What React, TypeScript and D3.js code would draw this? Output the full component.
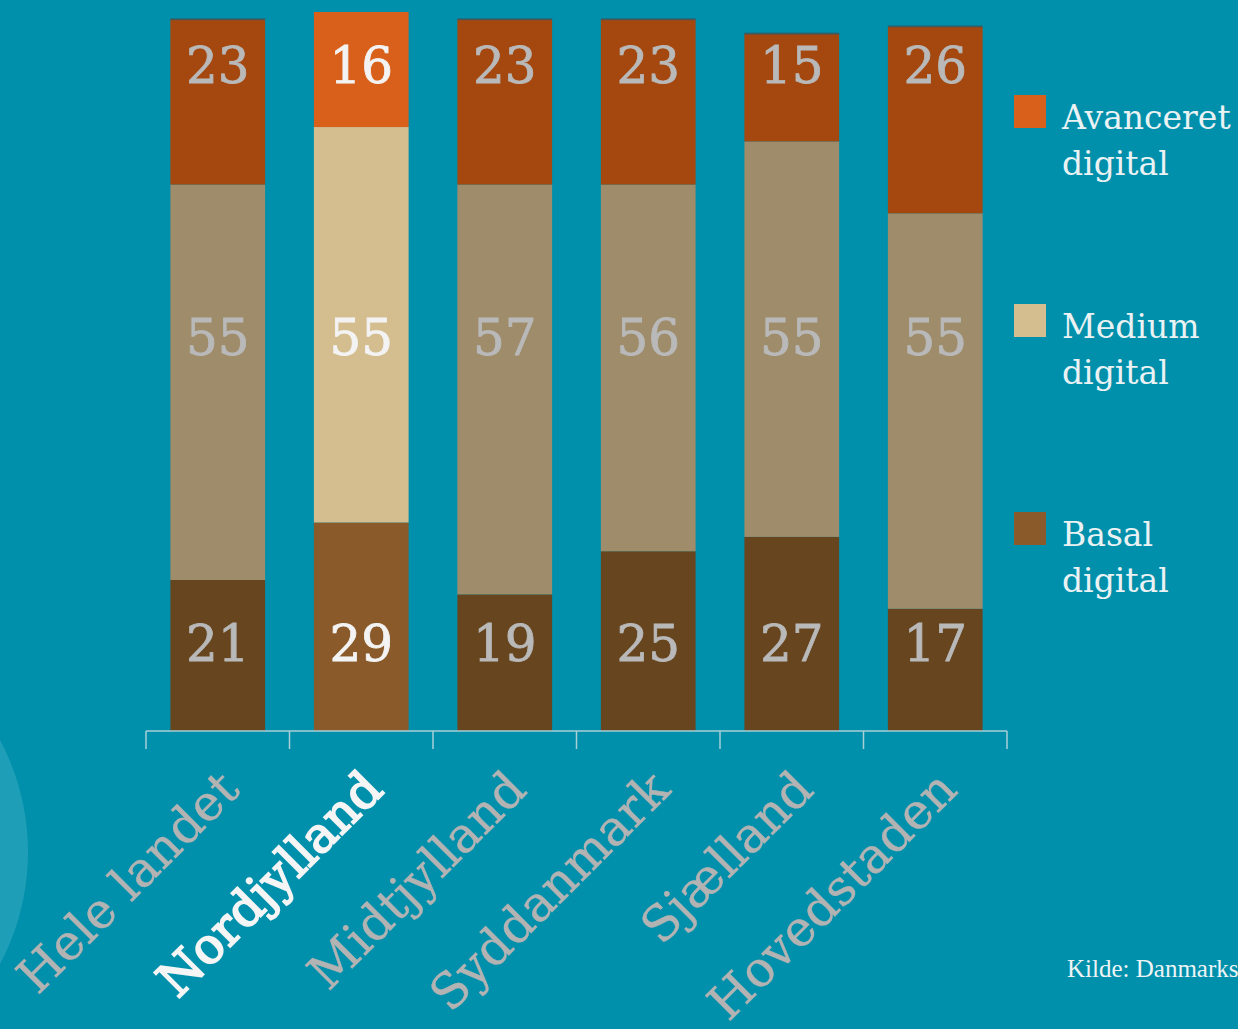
import React from "react";
import * as d3 from "d3";

const categories = ["Hele landet", "Nordjylland", "Midtjylland", "Syddanmark", "Sjælland", "Hovedstaden"];
const highlight = "Nordjylland";
const basal = [21, 29, 19, 25, 27, 17];
const medium = [55, 55, 57, 51, 55, 55]; // drawn heights as they appear
const mediumLabels = [55, 55, 57, 56, 55, 55]; // printed values
const avanceret = [23, 16, 23, 23, 15, 26];
const seriesNames = ["Avanceret digital", "Medium digital", "Basal digital"];

const W = 1238;
const H = 1029;
const BG = "#0190ab";
const colors = {
  dim: { basal: "#66451f", medium: "#9e8c6a", avanceret: "#a4480f" },
  hi: { basal: "#8a5a2a", medium: "#d4bd8e", avanceret: "#d9601a" },
};
const serif = "'DejaVu Serif', serif";

export default function App() {
  const x = d3.scaleBand<string>().domain(categories).range([146, 1007]).paddingInner(0.34).paddingOuter(0.17);
  const y = d3.scaleLinear().domain([0, 100]).range([731, 12]);
  const stackData = categories.map((c, i) => ({ c, basal: basal[i], medium: medium[i], avanceret: avanceret[i] }));
  const stack = d3.stack<any>().keys(["basal", "medium", "avanceret"])(stackData);
  const labelRowY: Record<string, number> = { basal: 643, medium: 337, avanceret: 65 };
  const labelVals: Record<string, number[]> = { basal, medium: mediumLabels, avanceret };
  const step = x.step();
  const boundaries = d3.range(categories.length + 1).map((i) => 146 + i * step);
  const legendKeys = [
    { key: "avanceret", name: seriesNames[0], y: 95 },
    { key: "medium", name: seriesNames[1], y: 304 },
    { key: "basal", name: seriesNames[2], y: 512 },
  ];

  return (
    <svg width={W} height={H} style={{ position: "absolute", left: 0, top: 0, display: "block" }}>
      <rect width={W} height={H} fill={BG} />
      <circle cx={-210} cy={852} r={238} fill="#2aa3bb" opacity={0.75} />
      {stack.map((layer) => (
        <g key={layer.key}>
          {layer.map((d: any, i: number) => {
            const c = categories[i];
            const hi = c === highlight;
            const fill = (hi ? colors.hi : colors.dim)[layer.key as "basal"];
            return (
              <rect key={c} x={x(c)} y={y(d[1])} width={x.bandwidth()} height={y(d[0]) - y(d[1])} fill={fill} />
            );
          })}
        </g>
      ))}
      {stack[2].map((d: any, i: number) => {
        const c = categories[i];
        if (c === highlight) return null;
        return <rect key={c} x={x(c)} y={y(d[1]) - 1} width={x.bandwidth()} height={2} fill="#2d5866" opacity={0.7} />;
      })}
      {stack.map((layer) =>
        layer.map((d: any, i: number) => {
          const c = categories[i];
          const hi = c === highlight;
          const col = hi ? "#f3f3f3" : "#b9b9b9";
          return (
            <text
              key={layer.key + c}
              x={(x(c) as number) + x.bandwidth() / 2}
              y={labelRowY[layer.key]}
              dy="0.36em"
              textAnchor="middle"
              fontFamily={serif}
              fontSize={50}
              fill={col}
              stroke={col}
              strokeWidth={0.8}
            >
              {labelVals[layer.key][i]}
            </text>
          );
        })
      )}
      <line x1={146} x2={1007} y1={731} y2={731} stroke="#a9cfd9" strokeWidth={1.5} />
      {boundaries.map((bx, i) => (
        <line key={i} x1={bx} x2={bx} y1={731} y2={749} stroke="#a9cfd9" strokeWidth={1.5} />
      ))}
      {categories.map((c) => {
        const hi = c === highlight;
        const cx = (x(c) as number) + x.bandwidth() / 2;
        const col = hi ? "#f5f5f5" : "#b3b3b3";
        return (
          <text
            key={c}
            transform={`translate(${cx + 24},${792}) rotate(-45)`}
            textAnchor="end"
            fontFamily={serif}
            fontSize={49}
            fill={col}
            stroke={col}
            strokeWidth={hi ? 1.8 : 0.4}
          >
            {c}
          </text>
        );
      })}
      {legendKeys.map((l) => {
        const [w1, w2] = l.name.split(" ");
        return (
          <g key={l.key}>
            <rect x={1014} y={l.y} width={32} height={33} fill={colors.hi[l.key as "basal"]} />
            <text x={1062} y={l.y + 34} fontFamily={serif} fontSize={33} fill="#eaf2f4">
              {w1}
            </text>
            <text x={1062} y={l.y + 80} fontFamily={serif} fontSize={33} fill="#eaf2f4">
              {w2}
            </text>
          </g>
        );
      })}
      <text x={1067} y={977} fontFamily="'Liberation Serif', serif" fontSize={25} fill="#eef4f6">
        Kilde: Danmarks Statistik
      </text>
    </svg>
  );
}
